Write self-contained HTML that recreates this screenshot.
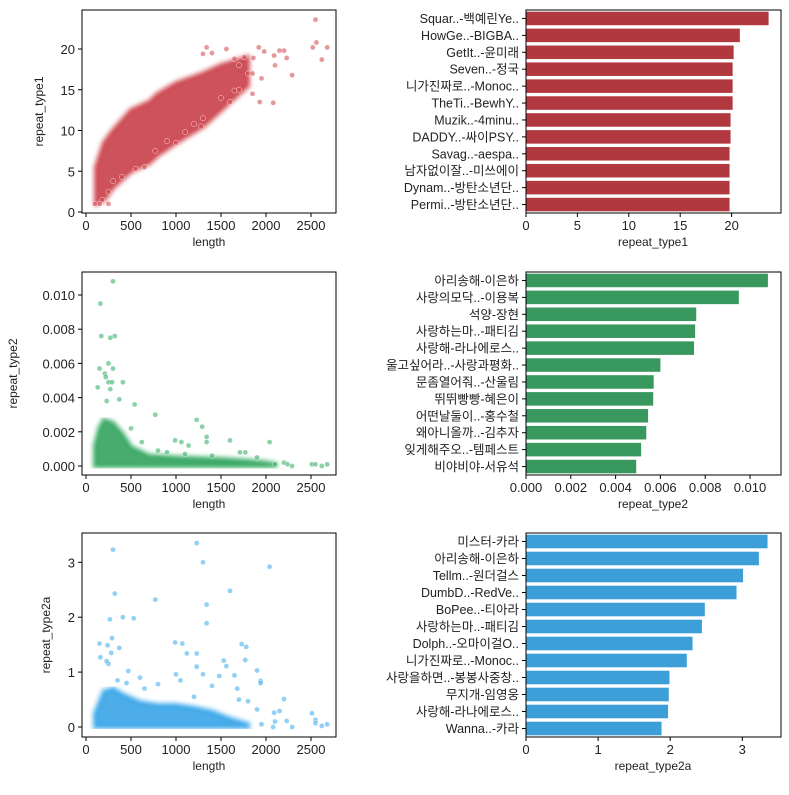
<!DOCTYPE html>
<html><head><meta charset="utf-8">
<style>
body{margin:0;background:#fff;}
svg text{font-family:"Liberation Sans","Noto Sans CJK KR",sans-serif;fill:#222;}
</style></head>
<body>
<svg id="fig" width="789" height="790" xmlns="http://www.w3.org/2000/svg">
<defs><filter id="soft" x="-5%" y="-5%" width="110%" height="110%"><feGaussianBlur stdDeviation="1.5"/></filter></defs>
</svg>
<script>
// ---- data ----
const barLabels1 = ["Squar..-백예린Ye..","HowGe..-BIGBA..","GetIt..-윤미래","Seven..-정국","니가진짜로..-Monoc..","TheTi..-BewhY..","Muzik..-4minu..","DADDY..-싸이PSY..","Savag..-aespa..","남자없이잘..-미쓰에이","Dynam..-방탄소년단..","Permi..-방탄소년단.."];
const barValues1 = [23.6,20.8,20.2,20.1,20.1,20.1,19.9,19.9,19.8,19.8,19.8,19.8];
const barLabels2 = ["아리송해-이은하","사랑의모닥..-이용복","석양-장현","사랑하는마..-패티김","사랑해-라나에로스..","울고싶어라..-사랑과평화..","문좀열어줘..-산울림","뛰뛰빵빵-혜은이","어떤날둘이..-홍수철","왜아니올까..-김추자","잊게해주오..-템페스트","비야비야-서유석"];
const barValues2 = [0.0108,0.0095,0.0076,0.00755,0.0075,0.0060,0.0057,0.00568,0.00545,0.00537,0.00514,0.00492];
const barLabels3 = ["미스터-카라","아리송해-이은하","Tellm..-원더걸스","DumbD..-RedVe..","BoPee..-티아라","사랑하는마..-패티김","Dolph..-오마이걸O..","니가진짜로..-Monoc..","사랑을하면..-봉봉사중창..","무지개-임영웅","사랑해-라나에로스..","Wanna..-카라"];
const barValues3 = [3.35,3.23,3.01,2.92,2.48,2.44,2.31,2.23,1.99,1.98,1.97,1.88];

const env1Len = [110,200,300,500,700,800,1000,1300,1500,1800];
const env1Lo = [1,1.5,3,5,6,7,8.5,10.5,12.5,15.5];
const env1Hi = [5.5,8.5,10,12.5,13.5,14.5,15.8,17,18,19];
const out1X = [2550,2560,2520,2680,2620,2290,2230,2200,2150,2090,2100,2080,1930,1850,1950,1920,1980,1340,1300,1560,1650,1500,1280,1000,900,770,550,300,250,150,100,1300,1700,1800,1760,1860,1700,1850,1600,1650,1400,1200,1100,650,400,250,180];
const out1Y = [23.6,20.8,20.2,20.2,18.7,16.8,18.9,19.8,19.8,19.2,18,13.4,13.5,14.5,16.4,20.2,19.7,20.2,19.4,20,14.9,14,10.5,8.5,8.7,7.5,5.3,3.8,1,1,1,11.5,18,17,19,18.9,15,17,13.5,18.8,19.5,10.8,9.8,5.5,4.3,2.5,1.5];

const env2Len = [100,150,200,300,400,500,700,1000,1500,1800,2000,2100];
const env2Lo = [0,0,0,0,0,0,0,0,0,0,0,0];
const env2Hi = [0.0012,0.0022,0.0027,0.0025,0.0019,0.0011,0.0006,0.0005,0.0004,0.0003,0.0002,0.0001];
const out2X = [300,160,170,270,320,250,150,300,210,220,410,250,290,130,270,540,370,230,770,1230,1290,1340,1340,990,1060,1600,2040,1140,1710,1770,1900,2200,2240,2290,2510,2550,2620,2680,2100,620,500,800,900,1400,1100];
const out2Y = [0.0108,0.0095,0.0076,0.0075,0.0076,0.0060,0.0057,0.0057,0.0054,0.0052,0.0049,0.0049,0.0049,0.0046,0.0045,0.0036,0.0039,0.0038,0.0030,0.0027,0.0023,0.0017,0.0014,0.0015,0.0014,0.0015,0.0014,0.0012,0.0008,0.0008,0.0005,0.0002,0.0001,0,0.0001,0.0001,0,0.0001,0.0001,0.0014,0.0022,0.0009,0.0008,0.0006,0.0007];

const env3Len = [100,200,300,400,600,800,1000,1200,1400,1600,1800];
const env3Lo = [0,0,0,0,0,0,0,0,0,0,0];
const env3Hi = [0.25,0.65,0.7,0.6,0.45,0.4,0.4,0.35,0.28,0.15,0.05];
const out3X = [300,1230,1300,2040,320,1600,770,1340,1340,410,530,265,290,150,240,370,160,280,990,1070,1120,1230,1730,1780,1530,1770,1230,1560,1900,1940,1940,2200,1650,1300,1000,470,600,1800,2090,2150,2510,2550,2550,2620,2680,2290,2230,2100,2080,1950,1900,1680,1400,800,650,1480,250,230,350,450,1050,1200,1700];
const out3Y = [3.23,3.35,3.0,2.92,2.43,2.48,2.32,2.23,1.89,2.0,1.98,1.96,1.62,1.52,1.49,1.44,1.27,1.35,1.54,1.52,1.34,1.34,1.51,1.46,1.21,1.22,1.1,1.11,1.03,0.84,0.8,0.51,0.94,0.96,0.96,1.02,0.9,0.47,0.26,0.29,0.25,0.13,0.07,0.02,0.05,0,0.11,0.1,0,0.05,0.32,0.7,0.75,0.78,0.7,0.93,1.15,1.2,0.85,0.8,0.85,0.55,0.5];

const lenTicks = [0,500,1000,1500,2000,2500];
const yTicks1 = [0,5,10,15,20];
const yTicks2 = [0,0.002,0.004,0.006,0.008,0.010];
const yTicks3 = [0,1,2,3];
const xTicksB1 = [0,5,10,15,20];
const xTicksB2 = [0,0.002,0.004,0.006,0.008,0.010];
const xTicksB3 = [0,1,2,3];

// ---- drawing ----
const NS="http://www.w3.org/2000/svg";
const svg=document.getElementById('fig');
function mk(tag,attrs,parent){const e=document.createElementNS(NS,tag);for(const k in attrs)e.setAttribute(k,attrs[k]);(parent||svg).appendChild(e);return e;}
function txt(s,x,y,anchor,size,parent,rot){const t=mk('text',{x:x,y:y,'text-anchor':anchor,'font-size':size},parent);if(rot)t.setAttribute('transform',`rotate(-90 ${x} ${y})`);t.textContent=s;return t;}

function scatter(cfg){
  const g=mk('g',{});
  
  
  const L=82,R=336,T=cfg.top,B=cfg.bottom;
  const sx=v=>86+v*0.09;
  const sy=v=>cfg.y0-v*cfg.ky;
  let pts=[];
  cfg.envLen.forEach((l,i)=>pts.push(sx(l)+','+sy(cfg.envHi[i])));
  for(let i=cfg.envLen.length-1;i>=0;i--)pts.push(sx(cfg.envLen[i])+','+sy(cfg.envLo[i]));
  const halo=mk('polygon',{points:pts.join(' '),fill:cfg.dot,'fill-opacity':0.5,stroke:cfg.dot,'stroke-opacity':0.45,'stroke-width':7,'stroke-linejoin':'round',filter:'url(#soft)'},g);
  
  
  const core=mk('polygon',{points:pts.join(' '),fill:cfg.core,'fill-opacity':0.8,filter:'url(#soft)'},g);
  
  
  cfg.ox.forEach((x,i)=>{
    const c=mk('circle',{cx:sx(x),cy:sy(cfg.oy[i]),r:2.6,fill:cfg.dot,'fill-opacity':0.55,stroke:'#fff','stroke-width':0.4},g);
    
    
  });
  const fr=mk('rect',{x:L,y:T,width:R-L,height:B-T,fill:'none',stroke:'#000','stroke-width':1},g);
  
  
  lenTicks.forEach(v=>{mk('line',{x1:sx(v),x2:sx(v),y1:B,y2:B+4,stroke:'#000'},g);txt(String(v),sx(v),B+17,'middle',13,g);});
  cfg.yt.forEach(v=>{mk('line',{x1:L-4,x2:L,y1:sy(v),y2:sy(v),stroke:'#000'},g);txt(cfg.fmt(v),L-7,sy(v)+5,'end',13,g);});
  const xl=txt('length',209,B+33,'middle',12,g);
  
  
  const yl=txt(cfg.ylab,cfg.ylx,(T+B)/2,'middle',12,g,true);
  
  
}

function bars(cfg){
  const g=mk('g',{});
  
  
  const L=526,R=781,T=cfg.top,B=cfg.bottom;
  const sx=v=>L+v*cfg.kx;
  const band=(B-T)/cfg.vals.length;
  cfg.vals.forEach((v,i)=>{
    const y=T+band*i+band*0.1;
    const r=mk('rect',{x:L,y:y,width:sx(v)-L,height:band*0.8,fill:cfg.color},g);
    
    
    const cy=T+band*(i+0.5);
    mk('line',{x1:L-4,x2:L,y1:cy,y2:cy,stroke:'#000'},g);
    const t=txt(cfg.labels[i],L-7,cy+4.5,'end',12.5,g);
    
    
  });
  const fr=mk('rect',{x:L,y:T,width:R-L,height:B-T,fill:'none',stroke:'#000','stroke-width':1},g);
  
  
  cfg.xt.forEach(v=>{mk('line',{x1:sx(v),x2:sx(v),y1:B,y2:B+4,stroke:'#000'},g);txt(cfg.fmt(v),sx(v),B+17,'middle',13,g);});
  const xl=txt(cfg.xlab,653,B+33,'middle',12,g);
  
  
}

scatter({name:'scatter-repeat-type1',top:10,bottom:213,y0:212,ky:8.15,envLen:env1Len,envLo:env1Lo,envHi:env1Hi,ox:out1X,oy:out1Y,yt:yTicks1,fmt:v=>String(v),ylab:'repeat_type1',ylx:43,dot:'#d0454c',core:'#c8404a'});
scatter({name:'scatter-repeat-type2',top:272,bottom:475,y0:466,ky:17100,envLen:env2Len,envLo:env2Lo,envHi:env2Hi,ox:out2X,oy:out2Y,yt:yTicks2,fmt:v=>v.toFixed(3),ylab:'repeat_type2',ylx:17,dot:'#2fab60',core:'#33a35f'});
scatter({name:'scatter-repeat-type2a',top:533,bottom:737,y0:727,ky:54.9,envLen:env3Len,envLo:env3Lo,envHi:env3Hi,ox:out3X,oy:out3Y,yt:yTicks3,fmt:v=>String(v),ylab:'repeat_type2a',ylx:50,dot:'#3aa9ec',core:'#3aa4e6'});

bars({name:'bar-repeat-type1',top:10,bottom:213,kx:10.28,vals:barValues1,labels:barLabels1,color:'#b1383f',xt:xTicksB1,fmt:v=>String(v),xlab:'repeat_type1'});
bars({name:'bar-repeat-type2',top:272,bottom:475,kx:22400,vals:barValues2,labels:barLabels2,color:'#38985e',xt:xTicksB2,fmt:v=>v.toFixed(3),xlab:'repeat_type2'});
bars({name:'bar-repeat-type2a',top:533,bottom:737,kx:72.1,vals:barValues3,labels:barLabels3,color:'#3c9fd7',xt:xTicksB3,fmt:v=>String(v),xlab:'repeat_type2a'});
</script>
</body></html>
